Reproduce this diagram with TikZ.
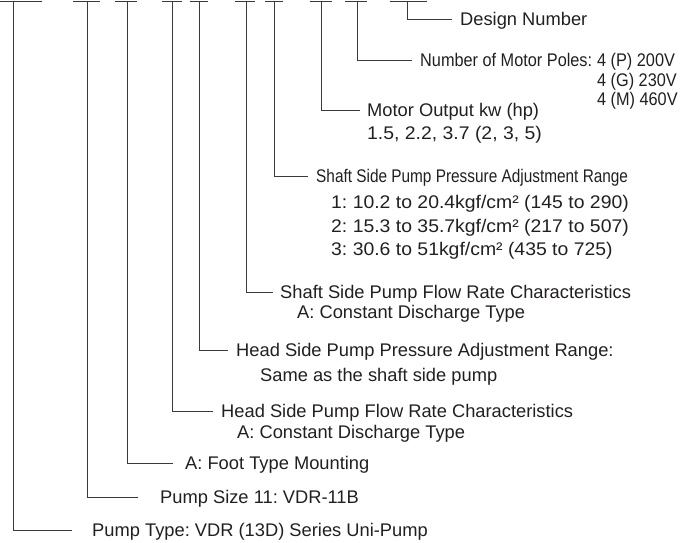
\documentclass[tikz,border=0pt]{standalone}
\usepackage{fontspec}
\setmainfont{Liberation Sans}
\newfontfamily\condfontA[FakeStretch=0.89]{Liberation Sans}
\newfontfamily\condfontB[FakeStretch=0.84]{Liberation Sans}
\newfontfamily\widefont[FakeStretch=1.06]{Liberation Sans}
\definecolor{linegray}{HTML}{3A3A3A}
\definecolor{textgray}{HTML}{231F20}
\frenchspacing
\begin{document}
\begin{tikzpicture}[x=1pt,y=-1pt,
  ln/.style={draw=linegray,line width=1pt},
  lbl/.style={anchor=base west,inner sep=0pt,text=textgray,font=\fontsize{18.3}{20}\selectfont},
  wlbl/.style={anchor=base west,inner sep=0pt,text=textgray,font=\widefont\fontsize{18.3}{20}\selectfont},
  clbla/.style={anchor=base west,inner sep=0pt,text=textgray,font=\condfontA\fontsize{18.3}{20}\selectfont},
  clblb/.style={anchor=base west,inner sep=0pt,text=textgray,font=\condfontB\fontsize{18.3}{20}\selectfont}]
\useasboundingbox (0,0) rectangle (691,542);
% tee tops: (left, vertical, right)
\foreach \n/\l/\v/\r in {a/0/13/42,b/73/87/100,c/115/127/137,d/162/172/182,e/190/199/208,
  f/235/246/255,g/265/274/283,h/310/321/332,i/345/357/367,j/390/407/427}{
  \coordinate (tl\n) at (\l,1);
  \coordinate (t\n) at (\v,1);
  \coordinate (tr\n) at (\r,1);
  \draw[ln] (tl\n) -- (tr\n);
}
% line ends
\coordinate (ej) at (452,19);
\coordinate (ei) at (412,60);
\coordinate (eh) at (360,110);
\coordinate (eg) at (308,176);
\coordinate (ef) at (273,292);
\coordinate (ee) at (228,350);
\coordinate (ed) at (213,411);
\coordinate (ec) at (173,463);
\coordinate (eb) at (138,497);
\coordinate (ea) at (72,530);
\foreach \n in {a,b,c,d,e,f,g,h,i,j}{\draw[ln] (t\n) |- (e\n);}
% labels
\node[lbl] (Lj) at (460,25.5) {Design Number};
\node[clbla] (Li) at (420,66.5) {Number of Motor Poles:};
\node[clbla,anchor=base west] (Li1) at ([xshift=4.5pt]Li.base east) {4 (P) 200V};
\node[clbla] (Li2) at ([yshift=-20pt]Li1.base west) {4 (G) 230V};
\node[clbla] (Li3) at ([yshift=-19pt]Li2.base west) {4 (M) 460V};
\node[lbl] (Lh) at (367,116.5) {Motor Output kw (hp)};
\node[wlbl] (Lh1) at (367,139.5) {1.5, 2.2, 3.7 (2, 3, 5)};
\node[clblb] (Lg) at (316,182.5) {Shaft Side Pump Pressure Adjustment Range};
\node[wlbl] (Lg1) at (331,208.5) {1: 10.2 to 20.4kgf/cm² (145 to 290)};
\node[wlbl] (Lg2) at (331,232.5) {2: 15.3 to 35.7kgf/cm² (217 to 507)};
\node[wlbl] (Lg3) at (331,255.5) {3: 30.6 to 51kgf/cm² (435 to 725)};
\node[lbl] (Lf) at (280,298.5) {Shaft Side Pump Flow Rate Characteristics};
\node[lbl] (Lf1) at (297,318.5) {A: Constant Discharge Type};
\node[lbl] (Le) at (236,356.5) {Head Side Pump Pressure Adjustment Range:};
\node[lbl] (Le1) at (260,381.5) {Same as the shaft side pump};
\node[lbl] (Ld) at (221,417.5) {Head Side Pump Flow Rate Characteristics};
\node[lbl] (Ld1) at (237,438.5) {A: Constant Discharge Type};
\node[lbl] (Lc) at (185,469.5) {A: Foot Type Mounting};
\node[lbl] (Lb) at (160,503.5) {Pump Size 11: VDR-11B};
\node[lbl] (La) at (92,536.5) {Pump Type: VDR (13D) Series Uni-Pump};
\end{tikzpicture}
\end{document}
